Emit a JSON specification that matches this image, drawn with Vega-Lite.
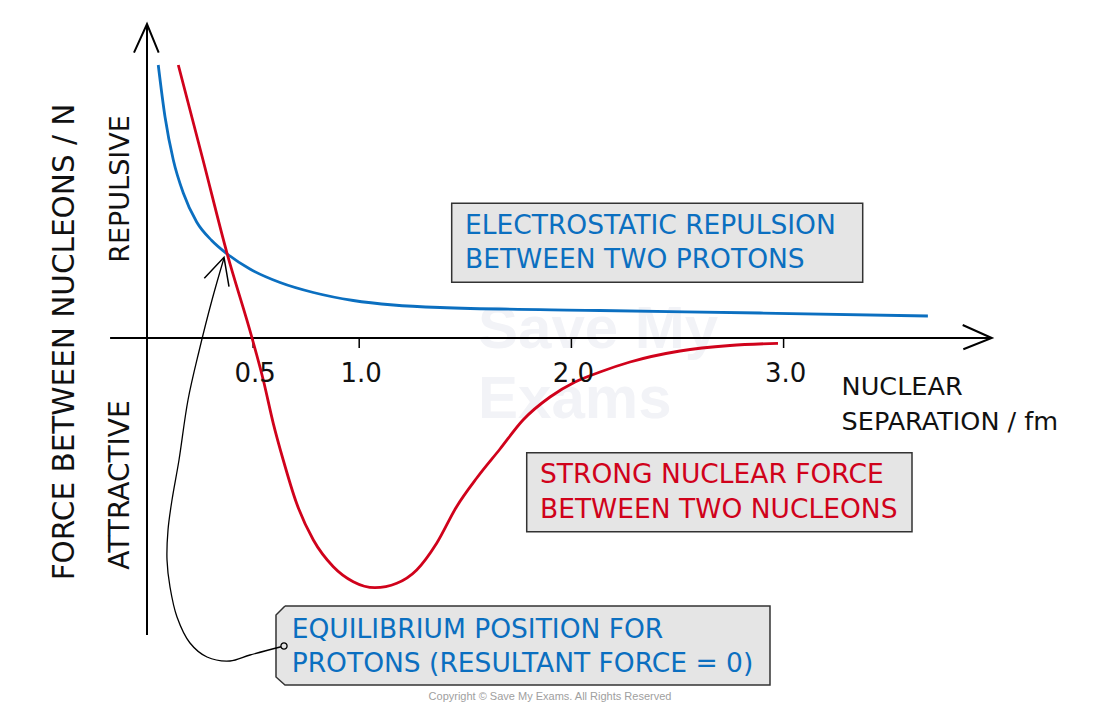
{
  "$schema": "https://vega.github.io/schema/vega-lite/v6.json",
  "width": 1100,
  "height": 709,
  "autosize": {"type": "fit", "contains": "padding"},
  "padding": 0,
  "background": "#ffffff",
  "config": {"view": {"stroke": null}},
  "encoding": {
    "x": {"field": "x", "type": "quantitative", "axis": null,
          "scale": {"domain": [-0.69275, 4.49105], "nice": false, "zero": false}},
    "y": {"field": "y", "type": "quantitative", "axis": null,
          "scale": {"domain": [-3.71, 3.38], "nice": false, "zero": false}}
  },
  "layer": [
    {
      "data": {"values": [
        {"x": 1.56, "y": -0.10, "t": "Save My"},
        {"x": 1.56, "y": -0.80, "t": "Exams"}
      ]},
      "mark": {"type": "text", "align": "left", "baseline": "alphabetic", "font": "Liberation Sans",
               "fontWeight": "bold", "fontSize": 60, "color": "#f2f3f7"},
      "encoding": {"text": {"field": "t"}}
    },
    {
      "data": {"values": [
        {"x": 0, "y": -2.97, "x2": 0, "y2": 3.14},
        {"x": -0.174, "y": 0, "x2": 3.981, "y2": 0}
      ]},
      "mark": {"type": "rule", "color": "#000000", "strokeWidth": 2},
      "encoding": {"x2": {"field": "x2"}, "y2": {"field": "y2"}}
    },
    {
      "data": {"values": [
        {"x": 0.5, "y": 0, "x2": 0.5, "y2": -0.1},
        {"x": 1.0, "y": 0, "x2": 1.0, "y2": -0.1},
        {"x": 2.0, "y": 0, "x2": 2.0, "y2": -0.1},
        {"x": 3.0, "y": 0, "x2": 3.0, "y2": -0.1}
      ]},
      "mark": {"type": "rule", "color": "#000000", "strokeWidth": 1.5},
      "encoding": {"x2": {"field": "x2"}, "y2": {"field": "y2"}}
    },
    {
      "data": {"values": [
        {"arrow": "force", "i": 0, "x": -0.0613, "y": 2.853},
        {"arrow": "force", "i": 1, "x": 0, "y": 3.14},
        {"arrow": "force", "i": 2, "x": 0.0551, "y": 2.853},
        {"arrow": "separation", "i": 0, "x": 3.844, "y": 0.13},
        {"arrow": "separation", "i": 1, "x": 3.981, "y": 0},
        {"arrow": "separation", "i": 2, "x": 3.847, "y": -0.113}
      ]},
      "mark": {"type": "line", "color": "#000000", "strokeWidth": 2, "strokeJoin": "miter"},
      "encoding": {"detail": {"field": "arrow"}, "order": {"field": "i"}}
    },
    {
      "data": {"values": [
        {"box": "electrostatic", "x": 1.4359, "x2": 3.3728, "y": 1.347, "y2": 0.557},
        {"box": "strong", "x": 1.7894, "x2": 3.6051, "y": -1.147, "y2": -1.937}
      ]},
      "mark": {"type": "rect", "fill": "#e5e5e5", "stroke": "#333333", "strokeWidth": 1.5},
      "encoding": {"x2": {"field": "x2"}, "y2": {"field": "y2"}}
    },
    {
      "data": {"values": [
        {"i": 0, "x": 0.6503, "y": -2.68},
        {"i": 1, "x": 2.9359, "y": -2.68},
        {"i": 2, "x": 2.9359, "y": -3.47},
        {"i": 3, "x": 0.6503, "y": -3.47},
        {"i": 4, "x": 0.6079, "y": -3.39},
        {"i": 5, "x": 0.6079, "y": -2.77},
        {"i": 6, "x": 0.6503, "y": -2.68}
      ]},
      "mark": {"type": "line", "fill": "#e5e5e5", "stroke": "#333333", "strokeWidth": 1.5},
      "encoding": {"order": {"field": "i"}}
    },
    {
      "data": {"values": [
        {"series": "Electrostatic repulsion", "x": 0.053, "y": 2.73},
        {"series": "Electrostatic repulsion", "x": 0.085, "y": 2.21},
        {"series": "Electrostatic repulsion", "x": 0.124, "y": 1.78},
        {"series": "Electrostatic repulsion", "x": 0.171, "y": 1.45},
        {"series": "Electrostatic repulsion", "x": 0.234, "y": 1.16},
        {"series": "Electrostatic repulsion", "x": 0.305, "y": 0.975},
        {"series": "Electrostatic repulsion", "x": 0.378, "y": 0.84},
        {"series": "Electrostatic repulsion", "x": 0.485, "y": 0.69},
        {"series": "Electrostatic repulsion", "x": 0.627, "y": 0.555},
        {"series": "Electrostatic repulsion", "x": 0.784, "y": 0.455},
        {"series": "Electrostatic repulsion", "x": 0.972, "y": 0.375},
        {"series": "Electrostatic repulsion", "x": 1.161, "y": 0.33},
        {"series": "Electrostatic repulsion", "x": 1.381, "y": 0.305},
        {"series": "Electrostatic repulsion", "x": 2.135, "y": 0.275},
        {"series": "Electrostatic repulsion", "x": 2.889, "y": 0.25},
        {"series": "Electrostatic repulsion", "x": 3.68, "y": 0.22},
        {"series": "Strong nuclear force", "x": 0.1475, "y": 2.73},
        {"series": "Strong nuclear force", "x": 0.264, "y": 1.78},
        {"series": "Strong nuclear force", "x": 0.378, "y": 0.84},
        {"series": "Strong nuclear force", "x": 0.495, "y": 0},
        {"series": "Strong nuclear force", "x": 0.548, "y": -0.42},
        {"series": "Strong nuclear force", "x": 0.595, "y": -0.853},
        {"series": "Strong nuclear force", "x": 0.642, "y": -1.22},
        {"series": "Strong nuclear force", "x": 0.705, "y": -1.653},
        {"series": "Strong nuclear force", "x": 0.784, "y": -2.02},
        {"series": "Strong nuclear force", "x": 0.878, "y": -2.287},
        {"series": "Strong nuclear force", "x": 0.972, "y": -2.437},
        {"series": "Strong nuclear force", "x": 1.074, "y": -2.497},
        {"series": "Strong nuclear force", "x": 1.177, "y": -2.453},
        {"series": "Strong nuclear force", "x": 1.271, "y": -2.32},
        {"series": "Strong nuclear force", "x": 1.365, "y": -2.053},
        {"series": "Strong nuclear force", "x": 1.459, "y": -1.687},
        {"series": "Strong nuclear force", "x": 1.554, "y": -1.40},
        {"series": "Strong nuclear force", "x": 1.6635, "y": -1.11},
        {"series": "Strong nuclear force", "x": 1.7719, "y": -0.82},
        {"series": "Strong nuclear force", "x": 1.8992, "y": -0.59},
        {"series": "Strong nuclear force", "x": 2.017, "y": -0.44},
        {"series": "Strong nuclear force", "x": 2.1348, "y": -0.34},
        {"series": "Strong nuclear force", "x": 2.2762, "y": -0.24},
        {"series": "Strong nuclear force", "x": 2.5118, "y": -0.13},
        {"series": "Strong nuclear force", "x": 2.7474, "y": -0.075},
        {"series": "Strong nuclear force", "x": 2.9736, "y": -0.053}
      ]},
      "mark": {"type": "line", "interpolate": "monotone", "strokeWidth": 2.8, "strokeCap": "butt"},
      "encoding": {
        "color": {"field": "series", "type": "nominal", "legend": null,
                  "scale": {"domain": ["Electrostatic repulsion", "Strong nuclear force"],
                            "range": ["#0b6fc0", "#d0021b"]}}
      }
    },
    {
      "data": {"values": [
        {"i": 0, "x": 0.6456, "y": -3.08},
        {"i": 1, "x": 0.4854, "y": -3.17},
        {"i": 2, "x": 0.3911, "y": -3.23},
        {"i": 3, "x": 0.2828, "y": -3.19},
        {"i": 4, "x": 0.2026, "y": -3.05},
        {"i": 5, "x": 0.1414, "y": -2.79},
        {"i": 6, "x": 0.1084, "y": -2.49},
        {"i": 7, "x": 0.0943, "y": -2.22},
        {"i": 8, "x": 0.099, "y": -1.92},
        {"i": 9, "x": 0.1178, "y": -1.62},
        {"i": 10, "x": 0.1508, "y": -1.22},
        {"i": 11, "x": 0.1932, "y": -0.62},
        {"i": 12, "x": 0.2465, "y": -0.12},
        {"i": 13, "x": 0.3063, "y": 0.38},
        {"i": 14, "x": 0.3629, "y": 0.80}
      ]},
      "mark": {"type": "line", "interpolate": "catmull-rom", "color": "#000000", "strokeWidth": 1.3},
      "encoding": {"order": {"field": "i"}}
    },
    {
      "data": {"values": [
        {"i": 0, "x": 0.27, "y": 0.597},
        {"i": 1, "x": 0.3629, "y": 0.807},
        {"i": 2, "x": 0.3864, "y": 0.513}
      ]},
      "mark": {"type": "line", "color": "#000000", "strokeWidth": 1.5, "strokeJoin": "miter"},
      "encoding": {"order": {"field": "i"}}
    },
    {
      "data": {"values": [{"x": 0.6456, "y": -3.08}]},
      "mark": {"type": "point", "shape": "circle", "size": 38, "filled": false,
               "stroke": "#000000", "strokeWidth": 1.3, "fill": "#e5e5e5", "fillOpacity": 1, "opacity": 1}
    },
    {
      "data": {"values": [
        {"x": 0.5, "y": -0.435, "t": "0.5"},
        {"x": 1.0, "y": -0.435, "t": "1.0"},
        {"x": 2.0, "y": -0.435, "t": "2.0"},
        {"x": 3.0, "y": -0.435, "t": "3.0"}
      ]},
      "mark": {"type": "text", "align": "center", "baseline": "alphabetic", "font": "DejaVu Sans",
               "fontSize": 26, "color": "#111111", "dx": 2},
      "encoding": {"text": {"field": "t"}}
    },
    {
      "data": {"values": [
        {"x": 3.2733, "y": -0.565, "t": "NUCLEAR"},
        {"x": 3.2733, "y": -0.915, "t": "SEPARATION / fm"}
      ]},
      "mark": {"type": "text", "align": "left", "baseline": "alphabetic", "font": "DejaVu Sans",
               "fontSize": 25.5, "color": "#111111"},
      "encoding": {"text": {"field": "t"}}
    },
    {
      "data": {"values": [
        {"x": -0.3864, "y": -0.04, "t": "FORCE BETWEEN NUCLEONS / N", "s": 29.5},
        {"x": -0.1225, "y": 1.49, "t": "REPULSIVE", "s": 27},
        {"x": -0.1225, "y": -1.47, "t": "ATTRACTIVE", "s": 28}
      ]},
      "mark": {"type": "text", "align": "center", "baseline": "middle", "angle": 270,
               "font": "DejaVu Sans", "color": "#111111"},
      "encoding": {"text": {"field": "t"}, "size": {"field": "s", "type": "quantitative", "scale": null, "legend": null}}
    },
    {
      "data": {"values": [
        {"x": 1.4986, "y": 1.037, "t": "ELECTROSTATIC REPULSION"},
        {"x": 1.4986, "y": 0.697, "t": "BETWEEN TWO PROTONS"},
        {"x": 0.6819, "y": -2.997, "t": "EQUILIBRIUM POSITION FOR"},
        {"x": 0.6819, "y": -3.337, "t": "PROTONS (RESULTANT FORCE = 0)"}
      ]},
      "mark": {"type": "text", "align": "left", "baseline": "alphabetic", "font": "DejaVu Sans",
               "fontSize": 26.5, "color": "#0b6fc0"},
      "encoding": {"text": {"field": "t"}}
    },
    {
      "data": {"values": [
        {"x": 1.852, "y": -1.45, "t": "STRONG NUCLEAR FORCE"},
        {"x": 1.852, "y": -1.80, "t": "BETWEEN TWO NUCLEONS"}
      ]},
      "mark": {"type": "text", "align": "left", "baseline": "alphabetic", "font": "DejaVu Sans",
               "fontSize": 26.5, "color": "#d0021b"},
      "encoding": {"text": {"field": "t"}}
    },
    {
      "data": {"values": [{"x": 1.8991, "y": -3.59, "t": "Copyright © Save My Exams. All Rights Reserved"}]},
      "mark": {"type": "text", "align": "center", "baseline": "middle", "font": "Liberation Sans",
               "fontSize": 11, "color": "#a0a0a0"},
      "encoding": {"text": {"field": "t"}}
    }
  ]
}
